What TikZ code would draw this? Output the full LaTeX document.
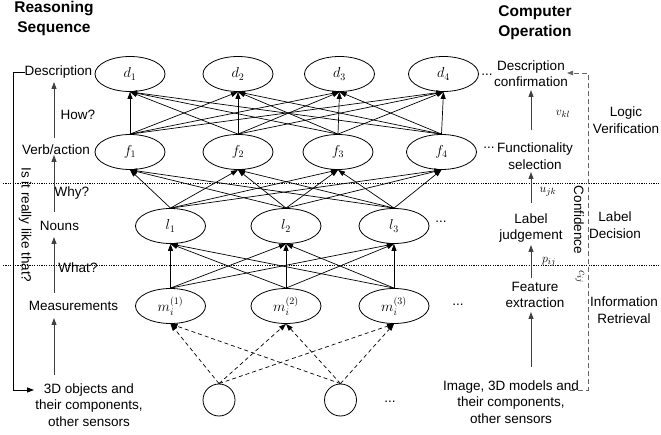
\documentclass[tikz,border=0pt]{standalone}
\usepackage{fontspec}
\setmainfont{Liberation Sans}
\usetikzlibrary{arrows.meta,shapes.geometric,calc}
\begin{document}
\begin{tikzpicture}[x=1pt,y=-1pt,
  nd/.style={ellipse,draw,line width=0.8pt,minimum width=70pt,minimum height=35pt,inner sep=0pt,font=\fontsize{14}{16}\selectfont},
  cir/.style={circle,draw,line width=0.8pt,minimum size=32pt,inner sep=0pt},
  lbl/.style={font=\fontsize{13.5}{16.5}\selectfont,align=center,inner sep=0pt},
  ttl/.style={font=\fontsize{15.5}{20}\selectfont\bfseries,align=center,inner sep=0pt},
  mlbl/.style={font=\fontsize{13}{15}\selectfont,inner sep=0pt},
  edge/.style={line width=0.7pt,-{Triangle[length=7pt,width=5pt]}},
  dedge/.style={edge,dash pattern=on 4pt off 3pt},
  seqarrow/.style={line width=0.9pt,black!75,-{Triangle[length=7pt,width=5pt]}},
  dotline/.style={line width=0.8pt,dash pattern=on 1.2pt off 1.2pt},
  fback/.style={line width=0.8pt,black!60,dash pattern=on 5pt off 3pt},
]
\useasboundingbox (0,0) rectangle (661,435);

% --- nodes
\node[nd] (d1) at (130,74) {$d_1$};
\node[nd] (d2) at (238,74) {$d_2$};
\node[nd] (d3) at (339.5,74) {$d_3$};
\node[nd] (d4) at (443.5,74) {$d_4$};
\node[nd] (f1) at (130,152) {$f_1$};
\node[nd] (f2) at (238,152) {$f_2$};
\node[nd] (f3) at (338,152) {$f_3$};
\node[nd] (f4) at (441.5,152) {$f_4$};
\node[nd] (l1) at (170.5,226) {$l_1$};
\node[nd] (l2) at (286,226) {$l_2$};
\node[nd] (l3) at (394,226) {$l_3$};
\node[nd] (m1) at (170.5,306) {$m_i^{(1)}$};
\node[nd] (m2) at (286,306) {$m_i^{(2)}$};
\node[nd] (m3) at (394,306) {$m_i^{(3)}$};
\node[cir] (c1) at (219,400) {};
\node[cir] (c2) at (340.5,400) {};

\node[lbl] (dotd) at (487,75) {...};
\node[lbl] (dotf) at (489,148) {...};
\node[lbl] (dotl) at (441,222) {...};
\node[lbl] (dotm) at (458,305) {...};
\node[lbl] (dotc) at (390,402) {...};

% --- connectors
\foreach \i in {1,...,4} \foreach \j in {1,...,4} \draw[edge] (f\i.north) -- (d\j.south);
\foreach \i in {1,...,3} \foreach \j in {1,...,4} \draw[edge] (l\i.north) -- (f\j.south);
\foreach \i in {1,...,3} \foreach \j in {1,...,3} \draw[edge] (m\i.north) -- (l\j.south);
\foreach \i in {1,2} \foreach \j in {1,...,3} \draw[dedge] (c\i.north) -- (m\j.south);

% --- separators
\draw[dotline] (3,183) -- (661,183);
\draw[dotline] (3,265) -- (661,265);

% --- left column
\node[ttl] (rs) at (54,18) {Reasoning\\Sequence};
\node[lbl] (ldesc) at (58.5,72) {Description};
\node[lbl] (lverb) at (56,150) {Verb/action};
\node[lbl] (lnoun) at (59.5,226) {Nouns};
\node[lbl] (lmeas) at (73.5,306) {Measurements};
\node[lbl] (lobj) at (89,405) {3D objects and\\their components,\\other sensors};
\node[lbl] (how) at (78,115) {How?};
\node[lbl] (why) at (72,193) {Why?};
\node[lbl] (what) at (78,268) {What?};
\node[lbl,rotate=-90] (really) at (25,225) {Is it really like that?};

\coordinate (la1) at (54,375); \coordinate (la1e) at (54,318);
\coordinate (la2) at (54,293); \coordinate (la2e) at (54,237);
\coordinate (la3) at (54,212); \coordinate (la3e) at (54,155);
\coordinate (la4) at (54,138); \coordinate (la4e) at (54,82);
\draw[seqarrow] (la1) -- (la1e);
\draw[seqarrow] (la2) -- (la2e);
\draw[seqarrow] (la3) -- (la3e);
\draw[seqarrow] (la4) -- (la4e);

\coordinate (bt) at (13,72); \coordinate (bb) at (13,390); \coordinate (be) at (34,390);
\draw[line width=0.8pt,-{Triangle[length=7pt,width=5pt]}] (ldesc.west) -- (bt) -- (bb) -- (be);

% --- right column
\node[ttl] (co) at (535,23) {Computer\\Operation};
\node[lbl] (rdesc) at (531,73.5) {Description\\confirmation};
\node[lbl] (rfun) at (535,156) {Functionality\\selection};
\node[lbl] (rlab) at (531,228) {Label\\judgement};
\node[lbl] (rfeat) at (535,295) {Feature\\extraction};
\node[lbl] (rimg) at (511,402) {Image, 3D models and\\their components,\\other sensors};
\node[mlbl] (vkl) at (563,114) {$v_{kl}$};
\node[mlbl] (ujk) at (548,192) {$u_{jk}$};
\node[mlbl] (pij) at (549,262) {$p_{ij}$};
\node[lbl] (logic) at (626,120) {Logic\\Verification};
\node[lbl] (ldec) at (615,225) {Label\\Decision};
\node[lbl] (info) at (624,310) {Information\\Retrieval};
\node[lbl,rotate=-90] (conf) at (579,220) {Confidence};
\node[mlbl,rotate=-90] (cij) at (580,277) {$c_{ij}$};

\coordinate (ra1) at (531,367); \coordinate (ra1e) at (531,312);
\coordinate (ra2) at (531,278); \coordinate (ra2e) at (531,245);
\coordinate (ra3) at (531,203); \coordinate (ra3e) at (531,172);
\coordinate (ra4) at (531,130); \coordinate (ra4e) at (531,90);
\draw[seqarrow] (ra1) -- (ra1e);
\draw[seqarrow] (ra2) -- (ra2e);
\draw[seqarrow] (ra3) -- (ra3e);
\draw[seqarrow] (ra4) -- (ra4e);

\coordinate (fb0) at (570,390); \coordinate (fb1) at (588,390);
\coordinate (fb2) at (588,73); \coordinate (fb3) at (567,73);
\draw[fback,-{Triangle[length=6pt,width=4.5pt]}] (fb0) -- (fb1) -- (fb2) -- (fb3);
\end{tikzpicture}
\end{document}
